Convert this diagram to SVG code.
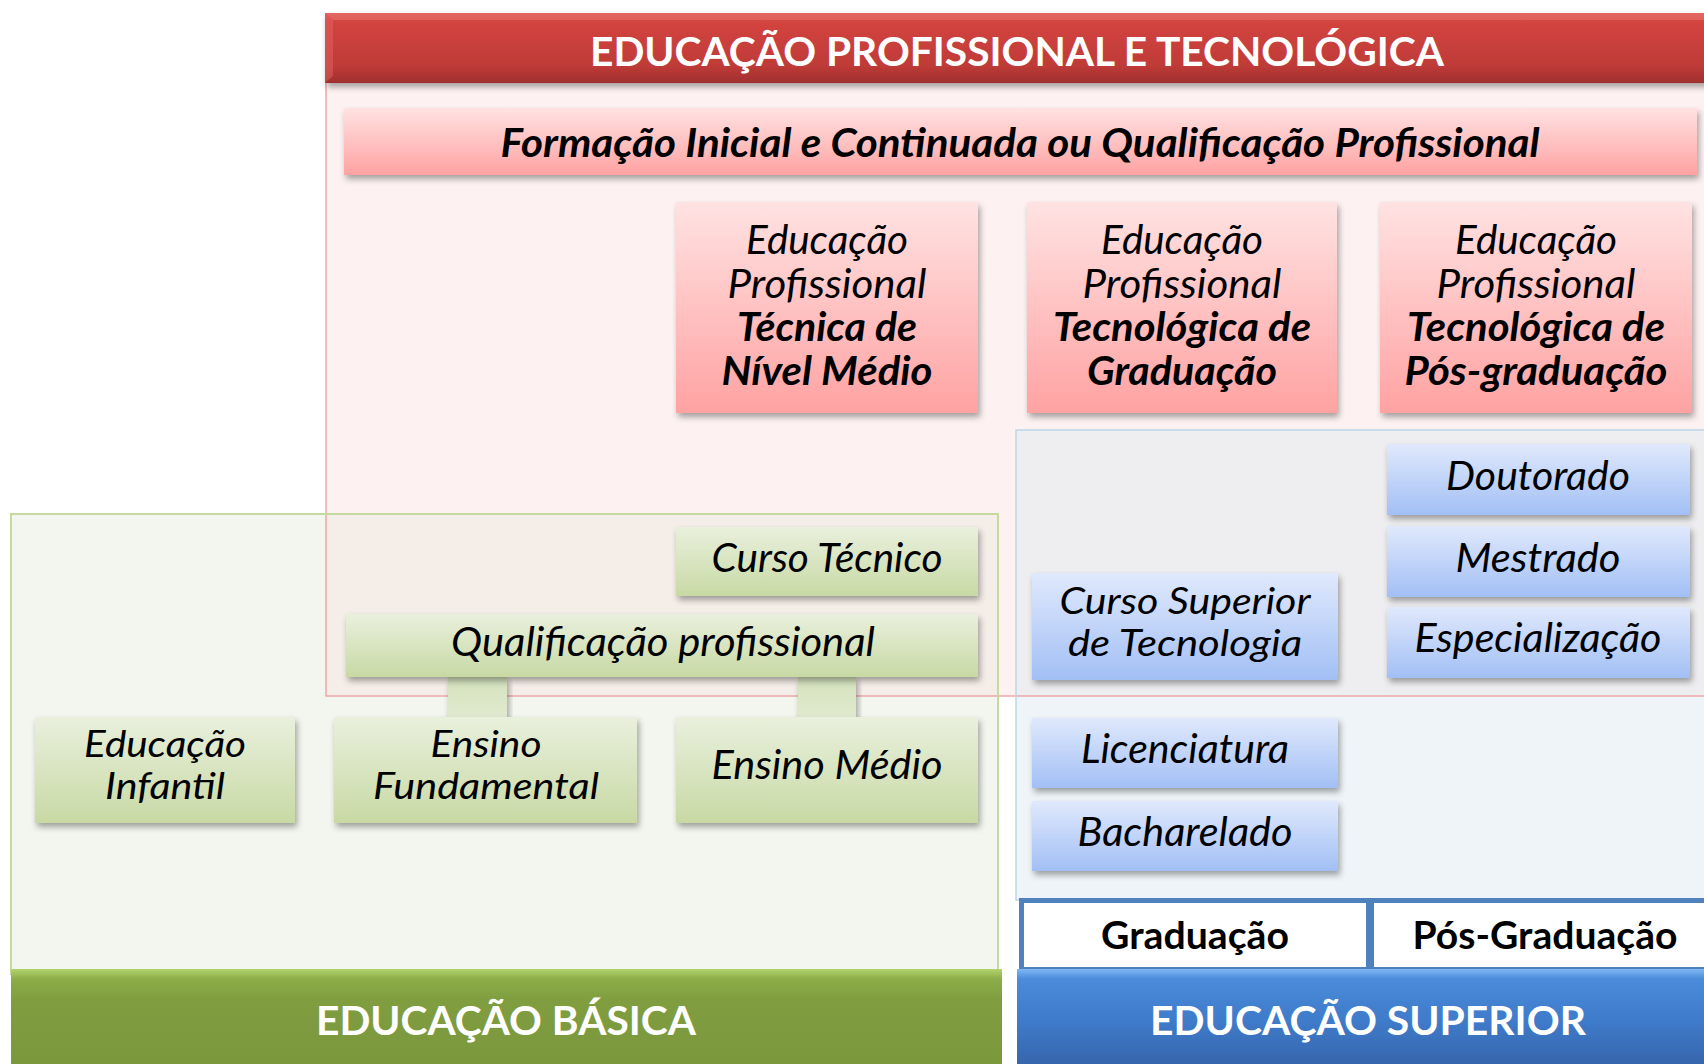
<svg xmlns="http://www.w3.org/2000/svg" width="1704" height="1064" viewBox="0 0 1704 1064">
<defs>
<linearGradient id="gPink" x1="0" y1="0" x2="0" y2="1"><stop offset="0" stop-color="#FFE2E2"/><stop offset="1" stop-color="#FFA2A2"/></linearGradient>
<linearGradient id="gGreen" x1="0" y1="0" x2="0" y2="1"><stop offset="0" stop-color="#E9F0DD"/><stop offset="1" stop-color="#C8D9A4"/></linearGradient>
<linearGradient id="gBlue" x1="0" y1="0" x2="0" y2="1"><stop offset="0" stop-color="#E0E9FC"/><stop offset="1" stop-color="#A2BFF5"/></linearGradient>
<linearGradient id="gHead" x1="0" y1="0" x2="0" y2="1"><stop offset="0" stop-color="#E05A56"/><stop offset="0.12" stop-color="#D3443F"/><stop offset="0.75" stop-color="#BF3B38"/><stop offset="1" stop-color="#A02F2D"/></linearGradient>
<linearGradient id="gGBar" x1="0" y1="0" x2="0" y2="1"><stop offset="0" stop-color="#B3D46C"/><stop offset="0.1" stop-color="#8CAD48"/><stop offset="0.3" stop-color="#809E40"/><stop offset="1" stop-color="#7A983C"/></linearGradient>
<linearGradient id="gBBar" x1="0" y1="0" x2="0" y2="1"><stop offset="0" stop-color="#7FB8F5"/><stop offset="0.1" stop-color="#4A8BDA"/><stop offset="0.5" stop-color="#3F7CCB"/><stop offset="1" stop-color="#3563AA"/></linearGradient>
<linearGradient id="gConn" x1="0" y1="0" x2="0" y2="1"><stop offset="0" stop-color="#D4E2BC"/><stop offset="1" stop-color="#E1EAD0"/></linearGradient>
<filter id="sh" x="-10%" y="-20%" width="120%" height="150%"><feDropShadow dx="2" dy="4" stdDeviation="3" flood-color="#000" flood-opacity="0.35"/></filter>
<style>
text{font-family:Lato,"Open Sans","Noto Sans",sans-serif;text-anchor:middle;fill:#000}
.t{font-size:40px;font-style:italic}
.t2{font-size:36px;font-style:italic}
.tb{font-size:40px;font-style:italic;font-weight:bold}
.h{font-size:40px;font-weight:bold;fill:#fff}
.hb{font-size:41px;font-weight:bold;fill:#fff}
.lab{font-size:38px;font-weight:bold}
.pk{fill:url(#gPink);filter:url(#sh)}
.gr{fill:url(#gGreen);filter:url(#sh)}
.bl{fill:url(#gBlue);filter:url(#sh)}
</style>
</defs>
<rect width="1704" height="1064" fill="#fff"/>
<g id="regions">
<rect x="326" y="80" width="1390" height="616" fill="#FDF2F1"/>
<rect x="11" y="514" width="987" height="460" fill="#F3F6EE"/>
<rect x="326" y="514" width="672" height="182" fill="#F5EDE8"/>
<rect x="1016" y="430" width="700" height="470" fill="#EEF4F8"/>
<rect x="1016" y="430" width="700" height="266" fill="#EEEDEF"/>
<rect x="326" y="80" width="1390" height="616" fill="none" stroke="#EBA9A9" stroke-width="1.5"/>
<rect x="11" y="514" width="987" height="460" fill="none" stroke="#C6DA9F" stroke-width="2"/>
<rect x="1016" y="430" width="700" height="470" fill="none" stroke="#BCD6E8" stroke-width="1.5"/>
</g>
<g id="header">
<rect x="325" y="13" width="1390" height="70" fill="url(#gHead)" filter="url(#sh)"/>
<polygon points="325,13 1715,13 1705,20 333,20" fill="#E8706B" opacity="0.6"/>
<polygon points="325,13 333,20 333,76 325,83" fill="#E06460" opacity="0.5"/>
<text class="h" x="1017" y="66" textLength="854" lengthAdjust="spacingAndGlyphs">EDUCAÇÃO PROFISSIONAL E TECNOLÓGICA</text>
</g>
<g id="fic">
<rect x="344" y="108" width="1353" height="67" class="pk"/>
<text class="tb" x="1020" y="157" textLength="1039" lengthAdjust="spacingAndGlyphs">Formação Inicial e Continuada ou Qualificação Profissional</text>
</g>
<g id="tecnica">
<rect x="676" y="202" width="302" height="211" class="pk"/>
<text class="t" x="827" y="254" textLength="162" lengthAdjust="spacingAndGlyphs">Educação</text>
<text class="t" x="827" y="297.5" textLength="199" lengthAdjust="spacingAndGlyphs">Profissional</text>
<text class="tb" x="827" y="341" textLength="180" lengthAdjust="spacingAndGlyphs">Técnica de</text>
<text class="tb" x="827" y="384.5" textLength="211" lengthAdjust="spacingAndGlyphs">Nível Médio</text>
</g>
<g id="tecnologica-graduacao">
<rect x="1027" y="202" width="310" height="211" class="pk"/>
<text class="t" x="1182" y="254" textLength="162" lengthAdjust="spacingAndGlyphs">Educação</text>
<text class="t" x="1182" y="297.5" textLength="199" lengthAdjust="spacingAndGlyphs">Profissional</text>
<text class="tb" x="1182" y="341" textLength="258" lengthAdjust="spacingAndGlyphs">Tecnológica de</text>
<text class="tb" x="1182" y="384.5" textLength="190" lengthAdjust="spacingAndGlyphs">Graduação</text>
</g>
<g id="tecnologica-pos">
<rect x="1380" y="202" width="312" height="211" class="pk"/>
<text class="t" x="1536" y="254" textLength="162" lengthAdjust="spacingAndGlyphs">Educação</text>
<text class="t" x="1536" y="297.5" textLength="199" lengthAdjust="spacingAndGlyphs">Profissional</text>
<text class="tb" x="1536" y="341" textLength="258" lengthAdjust="spacingAndGlyphs">Tecnológica de</text>
<text class="tb" x="1536" y="384.5" textLength="263" lengthAdjust="spacingAndGlyphs">Pós-graduação</text>
</g>
<g id="connectors">
<rect x="448" y="677" width="59" height="42" fill="url(#gConn)" filter="url(#sh)"/>
<rect x="798" y="677" width="58" height="42" fill="url(#gConn)" filter="url(#sh)"/>
</g>
<g id="curso-tecnico">
<rect x="676" y="527" width="302" height="69" class="gr"/>
<text class="t" x="827" y="572" textLength="231" lengthAdjust="spacingAndGlyphs">Curso Técnico</text>
</g>
<g id="qualificacao">
<rect x="346" y="614" width="632" height="63" class="gr"/>
<text class="t" x="663" y="656" textLength="424" lengthAdjust="spacingAndGlyphs">Qualificação profissional</text>
</g>
<g id="educacao-infantil">
<rect x="35" y="717" width="260" height="106" class="gr"/>
<text class="t2" x="165" y="757" textLength="162" lengthAdjust="spacingAndGlyphs">Educação</text>
<text class="t2" x="165" y="799" textLength="120" lengthAdjust="spacingAndGlyphs">Infantil</text>
</g>
<g id="ensino-fundamental">
<rect x="334" y="717" width="303" height="106" class="gr"/>
<text class="t2" x="486" y="757" textLength="111" lengthAdjust="spacingAndGlyphs">Ensino</text>
<text class="t2" x="486" y="799" textLength="226" lengthAdjust="spacingAndGlyphs">Fundamental</text>
</g>
<g id="ensino-medio">
<rect x="676" y="717" width="302" height="106" class="gr"/>
<text class="t" x="827" y="779" textLength="231" lengthAdjust="spacingAndGlyphs">Ensino Médio</text>
</g>
<g id="doutorado">
<rect x="1387" y="444" width="303" height="71" class="bl"/>
<text class="t" x="1538" y="490" textLength="184" lengthAdjust="spacingAndGlyphs">Doutorado</text>
</g>
<g id="mestrado">
<rect x="1387" y="526" width="303" height="71" class="bl"/>
<text class="t" x="1538" y="572" textLength="165" lengthAdjust="spacingAndGlyphs">Mestrado</text>
</g>
<g id="especializacao">
<rect x="1387" y="607" width="303" height="71" class="bl"/>
<text class="t" x="1538" y="652" textLength="247" lengthAdjust="spacingAndGlyphs">Especialização</text>
</g>
<g id="curso-superior">
<rect x="1032" y="573" width="306" height="107" class="bl"/>
<text class="t2" x="1185" y="614" textLength="251" lengthAdjust="spacingAndGlyphs">Curso Superior</text>
<text class="t2" x="1185" y="656" textLength="234" lengthAdjust="spacingAndGlyphs">de Tecnologia</text>
</g>
<g id="licenciatura">
<rect x="1032" y="718" width="306" height="70" class="bl"/>
<text class="t" x="1185" y="763" textLength="208" lengthAdjust="spacingAndGlyphs">Licenciatura</text>
</g>
<g id="bacharelado">
<rect x="1032" y="801" width="306" height="70" class="bl"/>
<text class="t" x="1185" y="846" textLength="215" lengthAdjust="spacingAndGlyphs">Bacharelado</text>
</g>
<g id="graduacao-pos">
<rect x="1019" y="898" width="700" height="71" fill="#4F81BD"/>
<rect x="1024" y="903" width="342" height="64" fill="#fff"/>
<rect x="1374" y="903" width="340" height="64" fill="#fff"/>
<text class="lab" x="1195" y="949" textLength="188" lengthAdjust="spacingAndGlyphs">Graduação</text>
<text class="lab" x="1545" y="949" textLength="265" lengthAdjust="spacingAndGlyphs">Pós-Graduação</text>
</g>
<g id="educacao-basica">
<rect x="11" y="969" width="991" height="100" fill="url(#gGBar)"/>
<text class="hb" x="506" y="1035" textLength="380" lengthAdjust="spacingAndGlyphs">EDUCAÇÃO BÁSICA</text>
</g>
<g id="educacao-superior">
<rect x="1017" y="969" width="700" height="100" fill="url(#gBBar)"/>
<text class="hb" x="1368" y="1035" textLength="436" lengthAdjust="spacingAndGlyphs">EDUCAÇÃO SUPERIOR</text>
</g>
</svg>
